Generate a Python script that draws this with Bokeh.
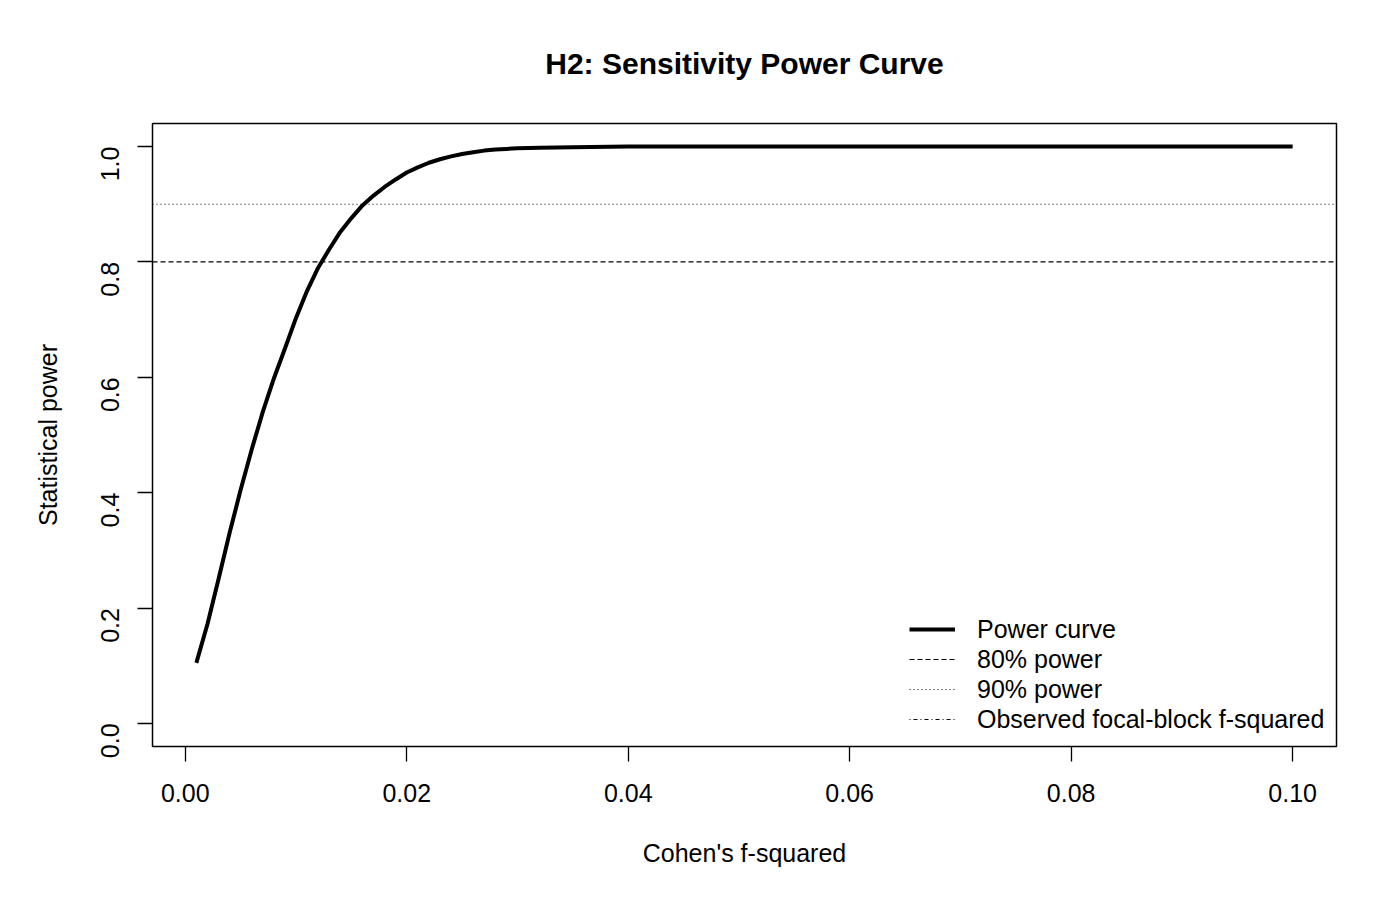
import math
from bokeh.plotting import figure
from bokeh.models import (Range1d, FixedTicker, NumeralTickFormatter,
                          Legend, LegendItem, Title)
from bokeh.embed import file_html
from bokeh.resources import INLINE

# ---- data ----
f2_values = [0.001, 0.002, 0.003, 0.004, 0.005, 0.006, 0.007, 0.008, 0.009, 0.010,
             0.011, 0.012, 0.013, 0.014, 0.015, 0.016, 0.017, 0.018, 0.019, 0.020,
             0.021, 0.022, 0.023, 0.024, 0.025, 0.026, 0.027, 0.028, 0.029, 0.030,
             0.032, 0.035, 0.040, 0.050, 0.060, 0.070, 0.080, 0.090, 0.100]
power_values = [0.105, 0.172, 0.250, 0.330, 0.405, 0.475, 0.540, 0.598, 0.650, 0.703,
                0.750, 0.790, 0.822, 0.852, 0.876, 0.898, 0.915, 0.930, 0.943, 0.955,
                0.964, 0.972, 0.978, 0.983, 0.987, 0.990, 0.993, 0.995, 0.996, 0.997,
                0.998, 0.999, 1.000, 1.000, 1.000, 1.000, 1.000, 1.000, 1.000]
power_thresholds = [0.8, 0.9]
observed_f2 = [float("nan")]   # observed value lies outside the plotted range
x_ticks = [0.00, 0.02, 0.04, 0.06, 0.08, 0.10]
y_ticks = [0.0, 0.2, 0.4, 0.6, 0.8, 1.0]
legend_labels = ["Power curve", "80% power", "90% power", "Observed focal-block f-squared"]

FONT = "Liberation Sans"
X_LO, X_HI = -0.00296, 0.10396

p = figure(width=1384, height=884, output_backend="svg", toolbar_location=None,
           x_range=Range1d(X_LO, X_HI), y_range=Range1d(-0.04, 1.04),
           min_border_left=152, min_border_right=48, min_border_top=123,
           min_border_bottom=138)
p.background_fill_color = "white"
p.border_fill_color = "white"
p.outline_line_color = "black"
p.outline_line_width = 1.5
p.xgrid.visible = False
p.ygrid.visible = False

p.title = Title(text="H2: Sensitivity Power Curve", align="center",
                text_font=FONT, text_font_size="30px", text_font_style="bold",
                text_color="black", standoff=88)

for ax, ticks, fmt in ((p.xaxis[0], x_ticks, "0.00"), (p.yaxis[0], y_ticks, "0.0")):
    ax.ticker = FixedTicker(ticks=ticks)
    ax.formatter = NumeralTickFormatter(format=fmt)
    ax.axis_line_color = None
    ax.major_tick_out = 15
    ax.major_tick_in = 0
    ax.major_tick_line_width = 1.3
    ax.major_tick_line_color = "black"
    ax.minor_tick_line_color = None
    ax.major_label_text_font = FONT
    ax.major_label_text_font_size = "25px"
    ax.major_label_text_color = "black"
    ax.axis_label_text_font = FONT
    ax.axis_label_text_font_size = "25px"
    ax.axis_label_text_font_style = "normal"
    ax.axis_label_text_color = "black"

p.xaxis.axis_label = "Cohen's f-squared"
p.xaxis.major_label_standoff = 22
p.xaxis.axis_label_standoff = 34
p.yaxis.axis_label = "Statistical power"
p.yaxis.major_label_orientation = math.pi / 2
p.yaxis.major_label_standoff = 27
p.yaxis.axis_label_standoff = 28

curve = p.line(f2_values, power_values, line_color="black", line_width=4)

dashes = ["5 3", "1 3"]
thr_renderers = []
for level, dash in zip(power_thresholds, dashes):
    r = p.line([X_LO, X_HI], [level, level], line_color="black",
               line_width=1.2, line_dash=dash)
    thr_renderers.append(r)

robs = p.line(observed_f2 * 2, [0, 1], line_color="black", line_width=1.2,
              line_dash="1 3 4 3")

legend = Legend(items=[LegendItem(label=legend_labels[0], renderers=[curve]),
                       LegendItem(label=legend_labels[1], renderers=[thr_renderers[0]]),
                       LegendItem(label=legend_labels[2], renderers=[thr_renderers[1]]),
                       LegendItem(label=legend_labels[3], renderers=[robs])],
                location=(757, 12), padding=0, margin=0, spacing=0,
                glyph_width=46, glyph_height=30, label_height=30,
                label_standoff=22, label_text_font=FONT,
                label_text_font_size="25px", label_text_color="black",
                border_line_color=None, background_fill_alpha=0)
p.add_layout(legend, "center")

open("out.html", "w").write(file_html(p, INLINE))
